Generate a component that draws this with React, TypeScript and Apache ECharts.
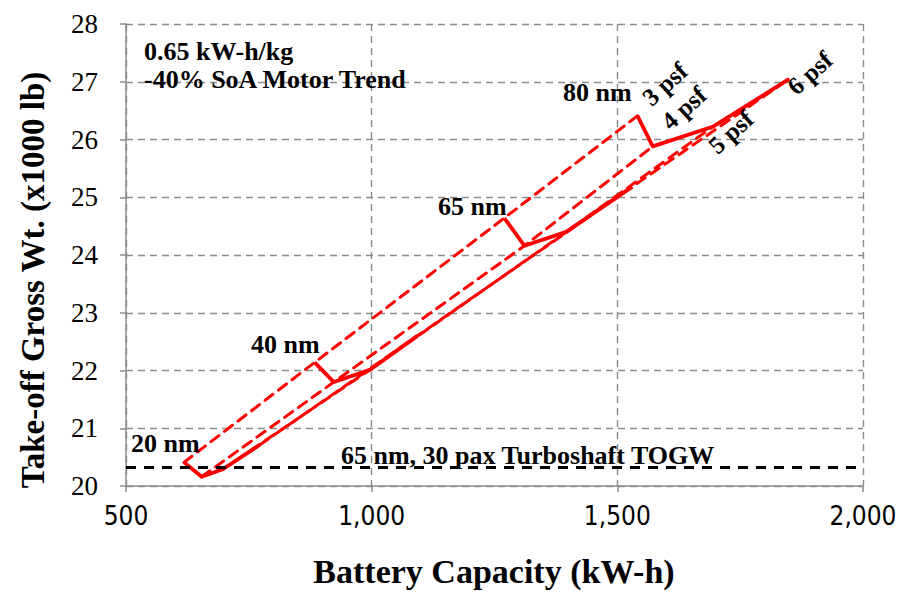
import React, { useEffect, useRef } from "react";
import * as echarts from "echarts";

// ---- data ----
const rangeLabels = ["20 nm", "40 nm", "65 nm", "80 nm"];
const psfLabels = ["3 psf", "4 psf", "5 psf", "6 psf"];
// Battery capacity (kW-h) and take-off gross weight (x1000 lb) at 3, 4, 5, 6 psf
const battery20nm = [618, 654, 697, 772];
const togw20nm = [20.41, 20.16, 20.29, 20.71];
const battery40nm = [884, 923, 996, 1093];
const togw40nm = [22.14, 21.8, 22.01, 22.6];
const battery65nm = [1270, 1311, 1396, 1530];
const togw65nm = [24.64, 24.16, 24.4, 25.18];
const battery80nm = [1541, 1572, 1694, 1850];
const togw80nm = [26.41, 25.88, 26.22, 27.05];
const turboshaftTOGW = 20.32;
const xTicks = [500, 1000, 1500, 2000];
const yTicks = [20, 21, 22, 23, 24, 25, 26, 27, 28];

const SERIF = "'Liberation Serif', 'Times New Roman', serif";
const NARROW = "'Liberation Sans Narrow', 'DejaVu Sans Condensed', 'Arial Narrow', sans-serif";

export default function App() {
  const ref = useRef<HTMLDivElement>(null);
  useEffect(() => {
    const chart = echarts.init(ref.current!, null, { renderer: "svg" });
    const ranges = [
      { x: battery20nm, y: togw20nm },
      { x: battery40nm, y: togw40nm },
      { x: battery65nm, y: togw65nm },
      { x: battery80nm, y: togw80nm },
    ];
    const dashedSeries = psfLabels.map((p, j) => ({
      name: p,
      type: "line",
      data: ranges.map((r) => [r.x[j], r.y[j]]),
      symbol: "none",
      silent: true,
      z: 2,
      lineStyle: { color: "#ff0000", width: 3, type: [10, 7], cap: "round" },
    }));
    const solidSeries = ranges.map((r, i) => ({
      name: rangeLabels[i],
      type: "line",
      data: r.x.map((v, k) => [v, r.y[k]]),
      symbol: "none",
      silent: true,
      z: 3,
      lineStyle: { color: "#ff0000", width: 3.8, join: "round" },
    }));
    const txt = (text: string, x: number, y: number, size: number, extra: any = {}) => ({
      type: "text",
      x,
      y,
      z: 10,
      ...extra,
      style: {
        text,
        fontFamily: SERIF,
        fontWeight: "bold",
        fontSize: size,
        fill: "#000",
        align: extra.align || "left",
        verticalAlign: "middle",
      },
    });
    const rot = (42 * Math.PI) / 180;
    const option: any = {
      animation: false,
      backgroundColor: "#fff",
      grid: { left: 126, right: 42, top: 24, bottom: 106 },
      xAxis: {
        type: "value",
        min: xTicks[0],
        max: xTicks[xTicks.length - 1],
        interval: 500,
        axisLine: { show: true, lineStyle: { color: "#8c8c8c", width: 1.5 } },
        axisTick: { show: true, length: 6, lineStyle: { color: "#8c8c8c", width: 1.5 } },
        axisLabel: {
          margin: 17,
          fontFamily: NARROW,
          fontSize: 26,
          color: "#000",
          formatter: (v: number) => v.toLocaleString("en-US"),
        },
        splitLine: { show: true, lineStyle: { color: "#8c8c8c", width: 1.4, type: [7, 5] } },
      },
      yAxis: {
        type: "value",
        min: yTicks[0],
        max: yTicks[yTicks.length - 1],
        interval: 1,
        axisLine: { show: true, lineStyle: { color: "#8c8c8c", width: 1.5 } },
        axisTick: { show: true, length: 6, lineStyle: { color: "#8c8c8c", width: 1.5 } },
        axisLabel: { margin: 28, fontFamily: SERIF, fontSize: 27, color: "#000" },
        splitLine: { show: true, lineStyle: { color: "#8c8c8c", width: 1.4, type: [7, 5] } },
      },
      series: [
        ...dashedSeries,
        ...solidSeries,
        {
          name: "TOGW",
          type: "line",
          data: [
            [xTicks[0], turboshaftTOGW],
            [xTicks[xTicks.length - 1], turboshaftTOGW],
          ],
          symbol: "none",
          silent: true,
          z: 4,
          lineStyle: { color: "#000", width: 3, type: [10, 8] },
        },
      ],
      graphic: [
        txt("0.65 kW-h/kg", 144, 51, 26),
        txt("-40% SoA Motor Trend", 144, 79, 26),
        txt(rangeLabels[0], 131, 443, 26),
        txt(rangeLabels[1], 251, 344, 26),
        txt(rangeLabels[2], 438, 206, 26),
        txt(rangeLabels[3], 563, 92, 26),
        txt("65 nm, 30 pax Turboshaft TOGW", 341, 455, 26),
        txt(psfLabels[0], 665, 84, 25, { rotation: rot, align: "center" }),
        txt(psfLabels[1], 684, 108, 25, { rotation: rot, align: "center" }),
        txt(psfLabels[2], 731, 132, 25, { rotation: rot, align: "center" }),
        txt(psfLabels[3], 810, 73, 25, { rotation: rot, align: "center" }),
        txt("Take-off Gross Wt. (x1000 lb)", 33, 280, 33, { rotation: Math.PI / 2, align: "center" }),
        txt("Battery Capacity (kW-h)", 494, 571, 34, { align: "center" }),
      ],
    };
    chart.setOption(option);
    return () => chart.dispose();
  }, []);
  return (
    <div
      ref={ref}
      style={{ position: "fixed", left: 0, top: 0, width: 905, height: 592, background: "#fff" }}
    />
  );
}
